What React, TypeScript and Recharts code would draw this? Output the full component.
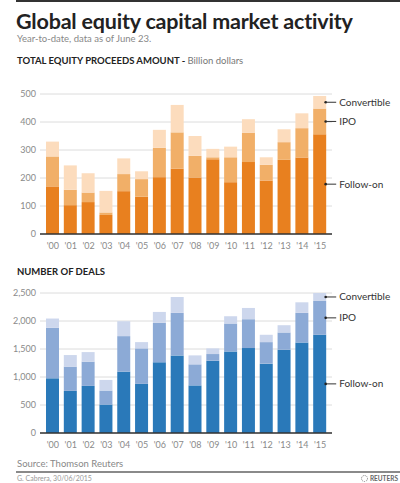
import React from "react";
import { BarChart, Bar, XAxis, YAxis, CartesianGrid, LabelList } from "recharts";

const years = ["'00", "'01", "'02", "'03", "'04", "'05", "'06", "'07", "'08", "'09", "'10", "'11", "'12", "'13", "'14", "'15"];

// Billion dollars (stacked segment values)
const proceedsFollowOn = [170, 103, 114, 68, 153, 133, 203, 233, 202, 267, 185, 257, 191, 265, 273, 356];
const proceedsIPO = [107, 55, 34, 9, 61, 63, 105, 130, 77, 7, 89, 105, 56, 63, 105, 92];
const proceedsConvertible = [53, 87, 69, 77, 56, 28, 64, 98, 71, 30, 38, 48, 27, 46, 53, 45];

// Number of deals (stacked segment values)
const dealsFollowOn = [977, 752, 841, 509, 1096, 877, 1262, 1386, 850, 1291, 1457, 1517, 1238, 1487, 1617, 1754];
const dealsIPO = [901, 433, 433, 249, 634, 634, 705, 759, 376, 119, 498, 515, 385, 308, 528, 604];
const dealsConvertible = [166, 207, 171, 190, 266, 112, 195, 284, 160, 101, 130, 201, 131, 130, 189, 142];

const proceedsTicks = [0, 100, 200, 300, 400, 500];
const dealsTicks = [0, 500, 1000, 1500, 2000, 2500];

const proceedsData = years.map((y, i) => ({
  year: y,
  followOn: proceedsFollowOn[i],
  ipo: proceedsIPO[i],
  convertible: proceedsConvertible[i],
}));
const dealsData = years.map((y, i) => ({
  year: y,
  followOn: dealsFollowOn[i],
  ipo: dealsIPO[i],
  convertible: dealsConvertible[i],
}));

const FONT = "Lato, 'Noto Sans', sans-serif";
const lastIndex = years.length - 1;

const makeLegendLabel = (text: string) => (props: any) => {
  const { x, y, width, height, index } = props;
  if (index !== lastIndex) return null;
  const cx = Number(x) + Number(width);
  const cy = Number(y) + Number(height) / 2;
  return (
    <g>
      <circle cx={cx - 0.5} cy={cy} r={1.3} fill="#222" />
      <line x1={cx} y1={cy} x2={cx + 10} y2={cy} stroke="#333" strokeWidth={1} />
      <text x={cx + 13} y={cy} dy="0.35em" fontSize={10} fill="#333" fontFamily={FONT}>
        {text}
      </text>
    </g>
  );
};

const tickStyle = { fontSize: 9, fill: "#8a8a8a", fontFamily: FONT };

function StackChart({
  data,
  ticks,
  max,
  colors,
  top,
  height,
  marginTop,
  fmt,
}: {
  data: any[];
  ticks: number[];
  max: number;
  colors: string[];
  top: number;
  height: number;
  marginTop: number;
  fmt: (v: number) => string;
}) {
  return (
    <div style={{ position: "absolute", left: 0, top, width: 400, height }}>
      <BarChart
        width={400}
        height={height}
        data={data}
        margin={{ top: marginTop, right: 68, left: 0, bottom: 0 }}
        barSize={13}
      >
        <CartesianGrid vertical={false} stroke="#dcdcdc" strokeWidth={1} />
        <XAxis
          dataKey="year"
          height={26}
          tickLine={false}
          axisLine={{ stroke: "#333", strokeWidth: 1.5 }}
          tick={tickStyle}
          padding={{ left: 4, right: 3 }}
          interval={0}
          tickMargin={3}
        />
        <YAxis
          width={40}
          domain={[0, max]}
          ticks={ticks}
          tickLine={false}
          axisLine={false}
          tickSize={2}
          tickMargin={2}
          tick={tickStyle}
          tickFormatter={fmt}
        />
        <Bar dataKey="followOn" stackId="a" fill={colors[0]} isAnimationActive={false}>
          <LabelList dataKey="followOn" content={makeLegendLabel("Follow-on")} />
        </Bar>
        <Bar dataKey="ipo" stackId="a" fill={colors[1]} isAnimationActive={false}>
          <LabelList dataKey="ipo" content={makeLegendLabel("IPO")} />
        </Bar>
        <Bar dataKey="convertible" stackId="a" fill={colors[2]} isAnimationActive={false}>
          <LabelList dataKey="convertible" content={makeLegendLabel("Convertible")} />
        </Bar>
      </BarChart>
    </div>
  );
}

export default function App() {
  return (
    <div
      style={{
        position: "absolute",
        left: 0,
        top: 0,
        width: 400,
        height: 483,
        background: "#fff",
        fontFamily: FONT,
        overflow: "hidden",
      }}
    >
      <div style={{ position: "absolute", left: 16, top: 0, width: 384, height: 2, background: "#333" }} />
      <div
        style={{
          position: "absolute",
          left: 16,
          top: 9,
          fontSize: 21.5,
          fontWeight: 700,
          color: "#222",
          whiteSpace: "nowrap",
          lineHeight: "24px",
          letterSpacing: -0.2,
        }}
      >
        Global equity capital market activity
      </div>
      <div style={{ position: "absolute", left: 17, top: 33, fontSize: 9.5, color: "#888", whiteSpace: "nowrap", lineHeight: "12px" }}>
        Year-to-date, data as of June 23.
      </div>
      <div style={{ position: "absolute", left: 17, top: 55, fontSize: 9.5, color: "#222", whiteSpace: "nowrap", lineHeight: "12px" }}>
        <span style={{ fontWeight: 700 }}>TOTAL EQUITY PROCEEDS AMOUNT - </span>
        <span style={{ color: "#777" }}>Billion dollars</span>
      </div>
      <StackChart
        data={proceedsData}
        ticks={proceedsTicks}
        max={500}
        colors={["#e8801f", "#f1af68", "#fcdcbd"]}
        top={80}
        height={180}
        marginTop={14}
        fmt={(v) => String(v)}
      />
      <div style={{ position: "absolute", left: 17, top: 266, fontSize: 9.5, fontWeight: 700, color: "#222", whiteSpace: "nowrap", lineHeight: "12px" }}>
        NUMBER OF DEALS
      </div>
      <StackChart
        data={dealsData}
        ticks={dealsTicks}
        max={2500}
        colors={["#2a79b9", "#8caad6", "#cdd7ed"]}
        top={260}
        height={199}
        marginTop={33}
        fmt={(v) => v.toLocaleString("en-US")}
      />
      <div style={{ position: "absolute", left: 17, top: 458, fontSize: 9.5, color: "#888", whiteSpace: "nowrap", lineHeight: "12px" }}>
        Source: Thomson Reuters
      </div>
      <div style={{ position: "absolute", left: 16, top: 471, width: 384, height: 1.5, background: "#8a8a8a" }} />
      <div style={{ position: "absolute", left: 17, top: 474, fontSize: 7, color: "#999", whiteSpace: "nowrap", lineHeight: "9px" }}>
        G. Cabrera, 30/06/2015
      </div>
      <div
        style={{
          position: "absolute",
          right: 2,
          top: 474,
          fontSize: 6.5,
          fontWeight: 700,
          color: "#666",
          whiteSpace: "nowrap",
          lineHeight: "9px",
          display: "flex",
          alignItems: "center",
          gap: 2,
        }}
      >
        <svg width={7} height={7}>
          <circle cx={3.5} cy={3.5} r={3} fill="none" stroke="#777" strokeWidth={1} strokeDasharray="1 1" />
        </svg>
        <span>REUTERS</span>
      </div>
    </div>
  );
}
